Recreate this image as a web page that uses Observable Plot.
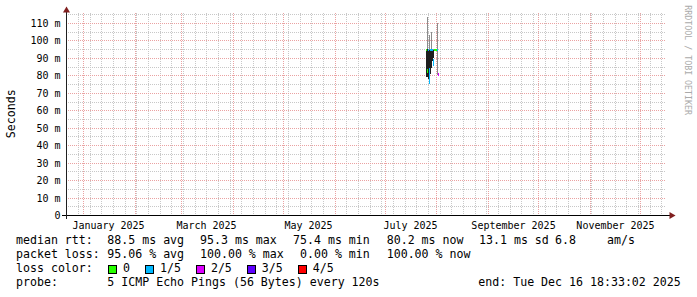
<!DOCTYPE html>
<html><head><meta charset="utf-8">
<script src="https://cdn.jsdelivr.net/npm/d3@7"></script>
<script src="https://cdn.jsdelivr.net/npm/@observablehq/plot@0.6"></script>
<style>
body{margin:0;background:#fff;}
#wrap{position:relative;width:697px;height:297px;overflow:hidden;font-family:"DejaVu Sans Mono",monospace;background:#fff;}
#wrap svg{position:absolute;left:0;top:0;}
.t{position:absolute;font-size:11.6px;line-height:11.6px;white-space:pre;color:#000;}
.box{position:absolute;width:9px;height:9px;border:1px solid #000;box-sizing:border-box;}
.rot{position:absolute;white-space:pre;line-height:1;}
</style></head><body><div id="wrap"></div>
<script>
// ---- time range ----
const startTime = "2024-12-21T18:33:02Z";
const endTime = "2025-12-16T18:33:02Z";
const yMax = 115.73;

// ---- axis ticks ----
const yTickValues = [0, 10, 20, 30, 40, 50, 60, 70, 80, 90, 100, 110];
const yTickLabels = ["0", "10 m", "20 m", "30 m", "40 m", "50 m", "60 m", "70 m", "80 m", "90 m", "100 m", "110 m"];
const monthLabelDates = ["2025-01-16", "2025-03-16", "2025-05-16", "2025-07-16", "2025-09-16", "2025-11-16"];
const monthLabels = ["January 2025", "March 2025", "May 2025", "July 2025", "September 2025", "November 2025"];

// ---- series (ms), one consolidated sample per ~14.4 h ----
const sampleTimes = ["2025-07-25T18:33Z", "2025-07-26T08:57Z", "2025-07-26T23:21Z", "2025-07-27T13:45Z",
  "2025-07-28T04:09Z", "2025-07-28T18:33Z", "2025-07-29T08:57Z", "2025-07-29T23:21Z", "2025-07-30T13:45Z",
  "2025-07-31T04:09Z", "2025-07-31T18:33Z", "2025-08-01T08:57Z", "2025-08-01T23:21Z"];
const smokeLow  = [79, 79, 78, 76, 81, 84, 88, 90, 94.5, 94.5, 94.5, 80, 80];
const smokeHigh = [95, 113.5, 95, 103, 95, 105, 95, 95, 95, 95, 95, 110, 81];
const coreLow   = [79, 79, 78, 76, 81, 84, 88, 90, 94.5, 94.5, 94.5, 94.5, 80];
const coreHigh  = [95, 95, 95, 94.5, 94.5, 94.5, 94.5, 94.5, 95, 95, 95, 95, 80];
const medianHigh = [94.8, 83, 94.5, 83.5, 94.5, 94.5, 94.5, 89, 94.8, 94.8, 94.8, 94.8, 80.5];
const medianLow  = [94.8, 82, 94.5, 75.4, 94.5, 94.5, 94.5, 86, 94.8, 94.8, 94.8, 94.5, 80.2];
const lossIndex  = [0, 0, 1, 1, 1, 1, 1, 1, 0, 0, 0, 1, 2];

// ---- legend ----
const lossColors = ["#26ff00", "#00b8ff", "#dd00ff", "#5e00ff", "#ff0000"];
const lossLabels = ["0", "1/5", "2/5", "3/5", "4/5"];
const rttStats = ["88.5 ms avg", "95.3 ms max", "75.4 ms min", "80.2 ms now", "13.1 ms sd"];
const rttAmS = ["6.8", "am/s"];
const lossStats = ["95.06 % avg", "100.00 % max", " 0.00 % min", "100.00 % now"];
const probeText = "5 ICMP Echo Pings (56 Bytes) every 120s";
const endText = "end: Tue Dec 16 18:33:02 2025";

// ---- build ----
const t0 = new Date(startTime), t1 = new Date(endTime);
const slot = 14.4 * 3600 * 1000;
const samples = sampleTimes.map((s, i) => ({
  t: new Date(s), t2: new Date(new Date(s).getTime() + slot),
  lo: smokeLow[i], hi: smokeHigh[i], cl: coreLow[i], ch: coreHigh[i],
  mh: medianHigh[i], ml: medianLow[i], loss: lossIndex[i]
}));
const weekly = d3.utcSunday.range(t0, t1);
const monthly = d3.utcMonth.range(t0, t1);
const minorY = d3.range(5, yMax, 5);
const majorY = yTickValues.filter(v => v > 0);
const labelDates = monthLabelDates.map(s => new Date(s));

const grid = "#c8c8c8", mgrid = "#eaa2a2";

const chart = Plot.plot({
  width: 697, height: 297,
  marginLeft: 66, marginRight: 31, marginTop: 13, marginBottom: 82,
  style: {fontFamily: "DejaVu Sans Mono", fontSize: "10px", background: "white", color: "black", overflow: "visible"},
  x: {type: "utc", domain: [t0, t1], round: true},
  y: {domain: [0, yMax], round: true},
  color: {type: "ordinal", domain: [0, 1, 2, 3, 4], range: lossColors},
  marks: [
    Plot.ruleX(weekly, {stroke: grid, strokeDasharray: "1,1"}),
    Plot.ruleY(minorY, {stroke: grid, strokeDasharray: "1,1"}),
    Plot.ruleX(monthly, {stroke: mgrid, strokeDasharray: "1,1"}),
    Plot.ruleY(majorY, {stroke: mgrid, strokeDasharray: "1,1"}),
    Plot.rect(samples, {x1: "t", x2: "t2", y1: "lo", y2: "hi", fill: "#8c8c8c"}),
    Plot.rect(samples, {x1: "t", x2: "t2", y1: "cl", y2: "ch", fill: "#1e1e1e"}),
    Plot.rect(samples, {x1: "t", x2: "t2", y1: "ml", y2: "mh", fill: "loss", insetTop: -1, insetBottom: -1}),
    Plot.ruleY([0], {stroke: "#000", insetLeft: -4, insetRight: -4}),
    Plot.ruleX([t0], {stroke: "#1f1f1f", insetBottom: -4, insetTop: -1}),
    Plot.dot([t1], {x: d => d, y: 0, symbol: "triangle", rotate: 90, r: 2.6, dx: 5, fill: "#801f1f", stroke: "none"}),
    Plot.dot([t0], {x: d => d, y: yMax, symbol: "triangle", r: 2.6, dy: -3, fill: "#801f1f", stroke: "none"}),
    Plot.axisY(yTickValues, {tickSize: 0, tickPadding: 6, label: null,
      tickFormat: d => yTickLabels[yTickValues.indexOf(d)], fontSize: 10}),
    Plot.axisX(labelDates, {tickSize: 0, tickPadding: 6, label: null,
      tickFormat: d => monthLabels[labelDates.findIndex(e => e.getTime() === d.getTime())], fontSize: 10})
  ]
});
const wrap = document.getElementById("wrap");
wrap.appendChild(chart);

const F = 11.6;
function addText(str, x, baseline) {
  const el = document.createElement("div");
  el.className = "t";
  el.textContent = str;
  el.style.left = x + "px";
  el.style.top = (baseline - 0.846 * F) + "px";
  wrap.appendChild(el);
  return el;
}
const cols = [107.3, 200, 293, 386.7, 479];
const rows = [245.2, 259, 272.7, 286.4];
addText("median rtt:", 16, rows[0]);
rttStats.forEach((s, i) => addText(s, cols[i], rows[0]));
addText(rttAmS[0], 555, rows[0]);
addText(rttAmS[1], 607, rows[0]);
addText("packet loss:", 16, rows[1]);
lossStats.forEach((s, i) => addText(s, cols[i], rows[1]));
addText("loss color:", 16, rows[2]);
let bx = 108;
lossLabels.forEach((lab, i) => {
  const b = document.createElement("div");
  b.className = "box";
  b.style.left = bx + "px";
  b.style.top = "265px";
  b.style.background = lossColors[i];
  wrap.appendChild(b);
  const lx = bx + 15;
  addText(lab, lx, rows[2]);
  bx = lx + 6.98 * lab.length + 15;
});
addText("probe:", 16, rows[3]);
addText(probeText, 107.3, rows[3]);
addText(endText, 478.3, rows[3]);

// rotated labels
function addRot(str, cx, cy, deg, size, color) {
  const el = document.createElement("div");
  el.className = "rot";
  el.textContent = str;
  el.style.fontSize = size + "px";
  el.style.color = color;
  wrap.appendChild(el);
  const w = el.offsetWidth, h = el.offsetHeight;
  el.style.left = (cx - w / 2) + "px";
  el.style.top = (cy - h / 2) + "px";
  el.style.transform = `rotate(${deg}deg)`;
}
addRot("Seconds", 11.5, 113.5, -90, 11.6, "#000");
addRot("RRDTOOL / TOBI OETIKER", 687.5, 60, 90, 8.3, "#aaaaaa");
</script></body></html>
